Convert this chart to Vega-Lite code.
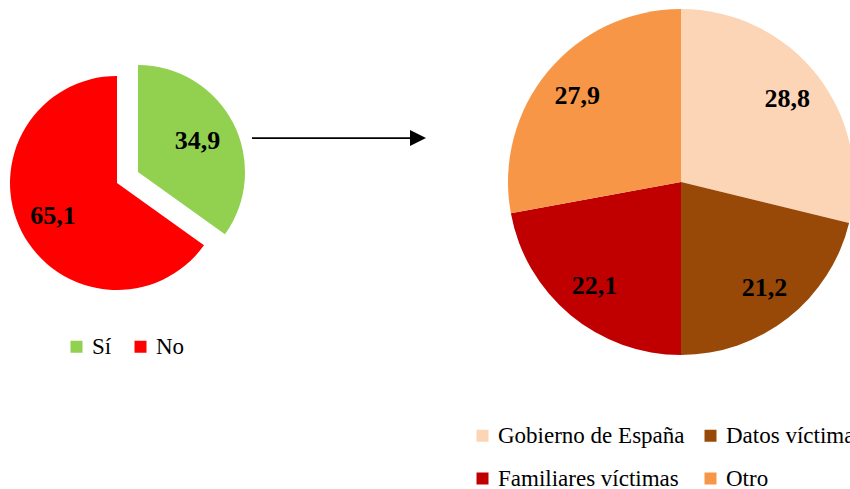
{
  "$schema": "https://vega.github.io/schema/vega-lite/v6.json",
  "width": 850,
  "height": 489,
  "padding": 0,
  "autosize": {"type": "none"},
  "background": "white",
  "config": {
    "view": {"stroke": null},
    "font": "serif"
  },
  "datasets": {
    "izq": [
      {"cat": "Sí", "value": 34.9, "order": 1},
      {"cat": "No", "value": 65.1, "order": 2}
    ],
    "der": [
      {"cat": "Gobierno de España", "value": 28.8, "order": 1},
      {"cat": "Datos víctimas", "value": 21.2, "order": 2},
      {"cat": "Familiares víctimas", "value": 22.1, "order": 3},
      {"cat": "Otro", "value": 27.9, "order": 4}
    ],
    "flecha": [{"tipo": "flecha"}]
  },
  "layer": [
    {
      "data": {"name": "izq"},
      "transform": [
        {"stack": "value", "groupby": [], "sort": [{"field": "order"}], "as": ["v0", "v1"]},
        {"calculate": "(datum.v0+datum.v1)/2", "as": "mid"},
        {"calculate": "replace(format(datum.value,'.1f'),'.',',')", "as": "label"}
      ],
      "layer": [
        {
          "transform": [{"filter": "datum.cat==='No'"}],
          "mark": {"type": "arc", "x": 117, "y": 183, "outerRadius": 107},
          "encoding": {
            "theta": {"field": "v0", "type": "quantitative", "scale": {"domain": [0, 100]}},
            "theta2": {"field": "v1"},
            "color": {
              "field": "cat", "type": "nominal",
              "scale": {"domain": ["Sí", "No"], "range": ["#92D050", "#FF0000"]},
              "legend": {
                "title": null, "orient": "none", "legendX": 65, "legendY": 335,
                "direction": "horizontal", "symbolType": "square", "symbolSize": 144,
                "labelFont": "Liberation Serif", "labelFontSize": 23, "labelColor": "#000000",
                "columnPadding": 17, "labelOffset": 4
              }
            }
          }
        },
        {
          "transform": [{"filter": "datum.cat==='Sí'"}],
          "mark": {"type": "arc", "x": 138, "y": 172, "outerRadius": 107},
          "encoding": {
            "theta": {"field": "v0", "type": "quantitative", "scale": {"domain": [0, 100]}},
            "theta2": {"field": "v1"},
            "color": {"field": "cat", "type": "nominal"}
          }
        },
        {
          "transform": [{"filter": "datum.cat==='No'"}],
          "mark": {"type": "text", "x": 117, "y": 183, "radius": 72, "font": "serif", "fontWeight": "bold", "fontSize": 26, "color": "black"},
          "encoding": {
            "theta": {"field": "mid", "type": "quantitative", "scale": {"domain": [0, 100]}},
            "text": {"field": "label"}
          }
        },
        {
          "transform": [{"filter": "datum.cat==='Sí'"}],
          "mark": {"type": "text", "x": 138, "y": 172, "radius": 67, "font": "serif", "fontWeight": "bold", "fontSize": 26, "color": "black"},
          "encoding": {
            "theta": {"field": "mid", "type": "quantitative", "scale": {"domain": [0, 100]}},
            "text": {"field": "label"}
          }
        }
      ]
    },
    {
      "data": {"name": "der"},
      "transform": [
        {"stack": "value", "groupby": [], "sort": [{"field": "order"}], "as": ["v0", "v1"]},
        {"calculate": "(datum.v0+datum.v1)/2", "as": "mid"},
        {"calculate": "replace(format(datum.value,'.1f'),'.',',')", "as": "label"}
      ],
      "layer": [
        {
          "mark": {"type": "arc", "x": 681, "y": 182, "outerRadius": 173},
          "encoding": {
            "theta": {"field": "v0", "type": "quantitative", "scale": {"domain": [0, 100]}},
            "theta2": {"field": "v1"},
            "color": {
              "field": "cat", "type": "nominal",
              "scale": {
                "domain": ["Gobierno de España", "Datos víctimas", "Familiares víctimas", "Otro"],
                "range": ["#FBD5B5", "#984807", "#C00000", "#F79646"]
              },
              "legend": {
                "title": null, "orient": "none", "legendX": 471, "legendY": 424,
                "direction": "horizontal", "columns": 2, "symbolType": "square", "symbolSize": 144,
                "labelFont": "Liberation Serif", "labelFontSize": 23, "labelColor": "#000000",
                "columnPadding": 14, "rowPadding": 19, "labelOffset": 4, "labelLimit": 300
              }
            }
          }
        },
        {
          "mark": {"type": "text", "x": 681, "y": 182, "radius": 135, "font": "serif", "fontWeight": "bold", "fontSize": 26, "color": "black"},
          "encoding": {
            "theta": {"field": "mid", "type": "quantitative", "scale": {"domain": [0, 100]}},
            "text": {"field": "label"}
          }
        }
      ]
    },
    {
      "data": {"name": "flecha"},
      "layer": [
        {
          "mark": {"type": "rule", "strokeWidth": 1.75, "color": "black"},
          "encoding": {"x": {"value": 252}, "x2": {"value": 412}, "y": {"value": 138}}
        },
        {
          "mark": {"type": "point", "shape": "M-1,-1L1,0L-1,1Z", "x": 418, "y": 138, "size": 256, "filled": true, "color": "black", "opacity": 1},
          "encoding": {}
        }
      ]
    }
  ],
  "resolve": {"scale": {"color": "independent", "theta": "independent"}}
}
